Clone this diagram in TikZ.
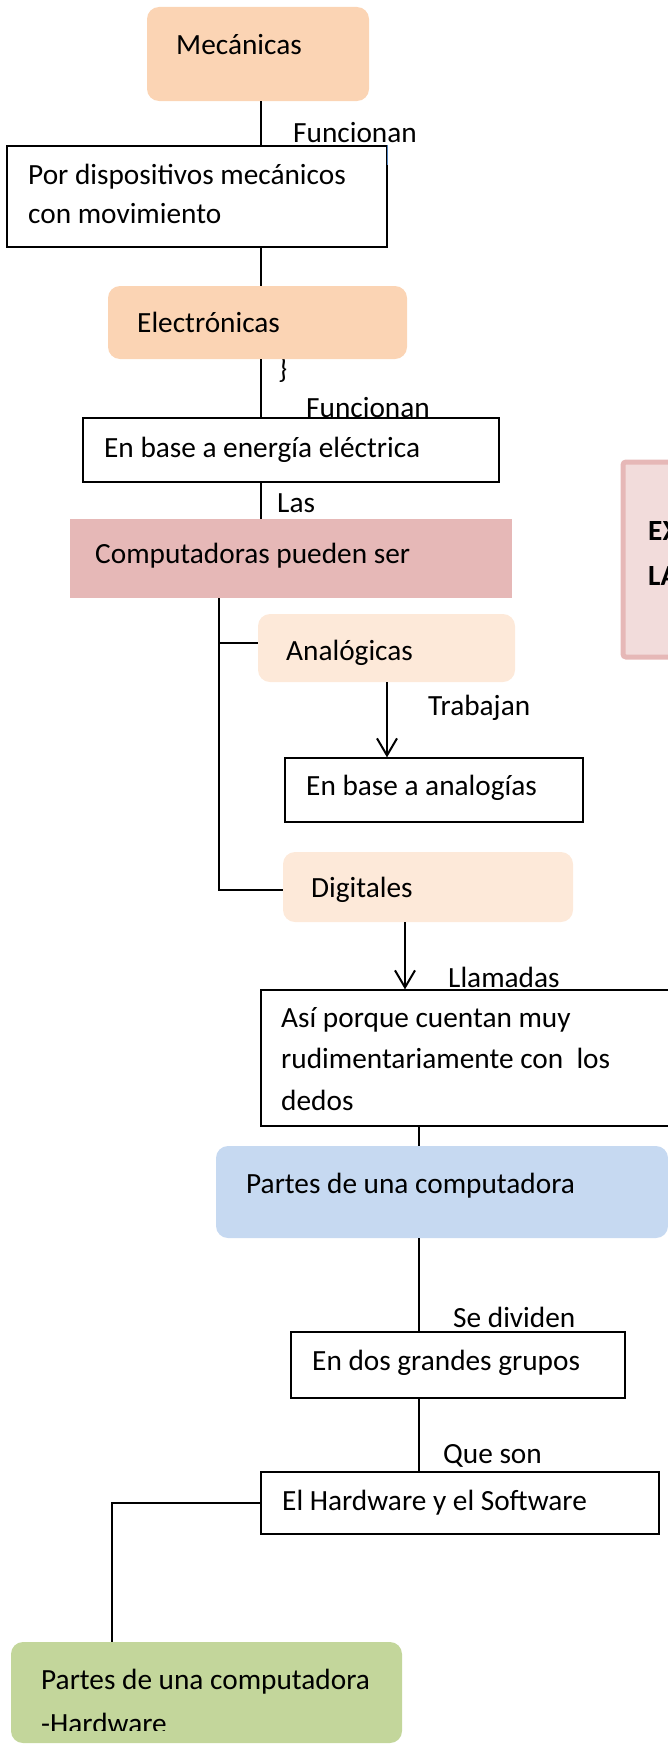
\documentclass[tikz,border=0pt]{standalone}
\usepackage{fontspec}
\setmainfont{Carlito}
\usetikzlibrary{arrows.meta,fit}
\definecolor{peach}{HTML}{FBD4B4}
\definecolor{lightpeach}{HTML}{FDE9D9}
\definecolor{rose}{HTML}{E6B8B7}
\definecolor{lightrose}{HTML}{F2DCDB}
\definecolor{lightblue}{HTML}{C6D9F1}
\definecolor{lightgreen}{HTML}{C3D69B}
\definecolor{tbblue}{HTML}{4F81BD}
\begin{document}
\begin{tikzpicture}[x=1pt,y=-1pt,
  txt/.style={anchor=base west, inner sep=0pt, font=\fontsize{29.3}{40}\selectfont},
  framebox/.style={draw=black, line width=1.3pt, fill=white, inner sep=0pt},
  blob/.style={rounded corners=12pt, inner sep=0pt, draw=none},
  conn/.style={line width=2pt},
  arr/.style={line width=2pt, -{Straight Barb[length=17pt,width=20pt]}}
]
\useasboundingbox (0,0) rectangle (668,1745);
\clip (0,0) rectangle (668,1745);

% column coordinates
\coordinate (cA) at (261,0);
\coordinate (cL) at (219,0);
\coordinate (cT) at (387,0);
\coordinate (cD) at (405,0);
\coordinate (cP) at (419,0);
\coordinate (cG) at (112,0);
\coordinate (jA) at (219,643);
\coordinate (jD) at (219,890);

% brace (partly hidden under the box)
\node[txt] (brace) at (278,378) {\}};

% boxes
\node[blob, fill=peach, fit={(147,7) (369,101)}] (mec) {};
\node[framebox, fit={(7,146) (387,247)}] (por) {};
\node[blob, fill=peach, fit={(108,286) (407,359)}] (ele) {};
\node[framebox, fit={(83,418) (499,482)}] (en1) {};
\node[inner sep=0pt, fill=rose, fit={(70,519) (512,598)}] (comp) {};
\node[inner sep=0pt, draw=rose, line width=5pt, fill=lightrose, rounded corners=3pt, fit={(623,462) (720,657)}] (exp) {};
\node[blob, fill=lightpeach, fit={(258,614) (515,682)}] (ana) {};
\node[framebox, fit={(285,758) (583,822)}] (en2) {};
\node[blob, fill=lightpeach, fit={(283,852) (573,922)}] (dig) {};
\node[framebox, fit={(261,990) (720,1126)}] (asi) {};
\node[blob, fill=lightblue, fit={(216,1146) (668,1238)}] (par) {};
\node[framebox, fit={(291,1332) (625,1398)}] (dos) {};
\node[framebox, fit={(261,1472) (659,1534)}] (hw) {};
\node[blob, fill=lightgreen, fit={(11,1642) (402,1743)}] (grn) {};

% small text-box artefact on the right border of the first box
\draw[tbblue, line width=1pt] (por.north east) -- ++(0,20);

% connectors
\draw[conn] (mec.south -| cA) -- (por.north -| cA);
\draw[conn] (por.south -| cA) -- (ele.north -| cA);
\draw[conn] (ele.south -| cA) -- (en1.north -| cA);
\draw[conn] (en1.south -| cA) -- (comp.north -| cA);
\draw[conn] (comp.south -| cL) -- (jD) -- (jD -| dig.west);
\draw[conn] (jA) -- (jA -| ana.west);
\draw[arr] (ana.south -| cT) -- (en2.north -| cT);
\draw[arr] (dig.south -| cD) -- (asi.north -| cD);
\draw[conn] (asi.south -| cP) -- (par.north -| cP);
\draw[conn] (par.south -| cP) -- (dos.north -| cP);
\draw[conn] (dos.south -| cP) -- (hw.north -| cP);
\draw[conn] (hw.west) -| (grn.north -| cG);

% texts in boxes
\node[txt] (t1) at (176,55) {Mecánicas};
\node[txt] (t2a) at (28,184) {Por dispositivos mecánicos};
\node[txt] (t2b) at (28,223) {con movimiento};
\node[txt] (t3) at (137,332) {Electrónicas};
\node[txt] (t4) at (104,457) {En base a energía eléctrica};
\node[txt] (t5) at (95,563) {Computadoras pueden ser};
\node[txt, font=\fontsize{29.3}{40}\selectfont\bfseries] (t6a) at (648,540) {EX};
\node[txt, font=\fontsize{29.3}{40}\selectfont\bfseries] (t6b) at (648,585) {LA};
\node[txt] (t7) at (286,660) {Analógicas};
\node[txt] (t8) at (306,795) {En base a analogías};
\node[txt] (t9) at (311,897) {Digitales};
\node[txt] (t10a) at (281,1027) {Así porque cuentan muy};
\node[txt] (t10b) at (281,1068) {rudimentariamente con\ \ los};
\node[txt] (t10c) at (281,1110) {dedos};
\node[txt] (t11) at (246,1193) {Partes de una computadora};
\node[txt] (t12) at (312,1370) {En dos grandes grupos};
\node[txt] (t13) at (282,1510) {El Hardware y el Software};
\node[txt] (t14a) at (41,1689) {Partes de una computadora};
\begin{scope}
\clip (0,1600) rectangle (668,1730);
\node[txt] (t14b) at (41,1733) {-Hardware};
\end{scope}

% connector labels
\node[txt] (l1) at (293,142) {Funcionan};
\node[txt] (l2) at (306,417) {Funcionan};
\node[txt] (l3) at (277,512) {Las};
\node[txt] (l4) at (428,715) {Trabajan};
\node[txt] (l5) at (448,987) {Llamadas};
\node[txt] (l6) at (453,1327) {Se dividen};
\node[txt] (l7) at (443,1463) {Que son};
\end{tikzpicture}
\end{document}
